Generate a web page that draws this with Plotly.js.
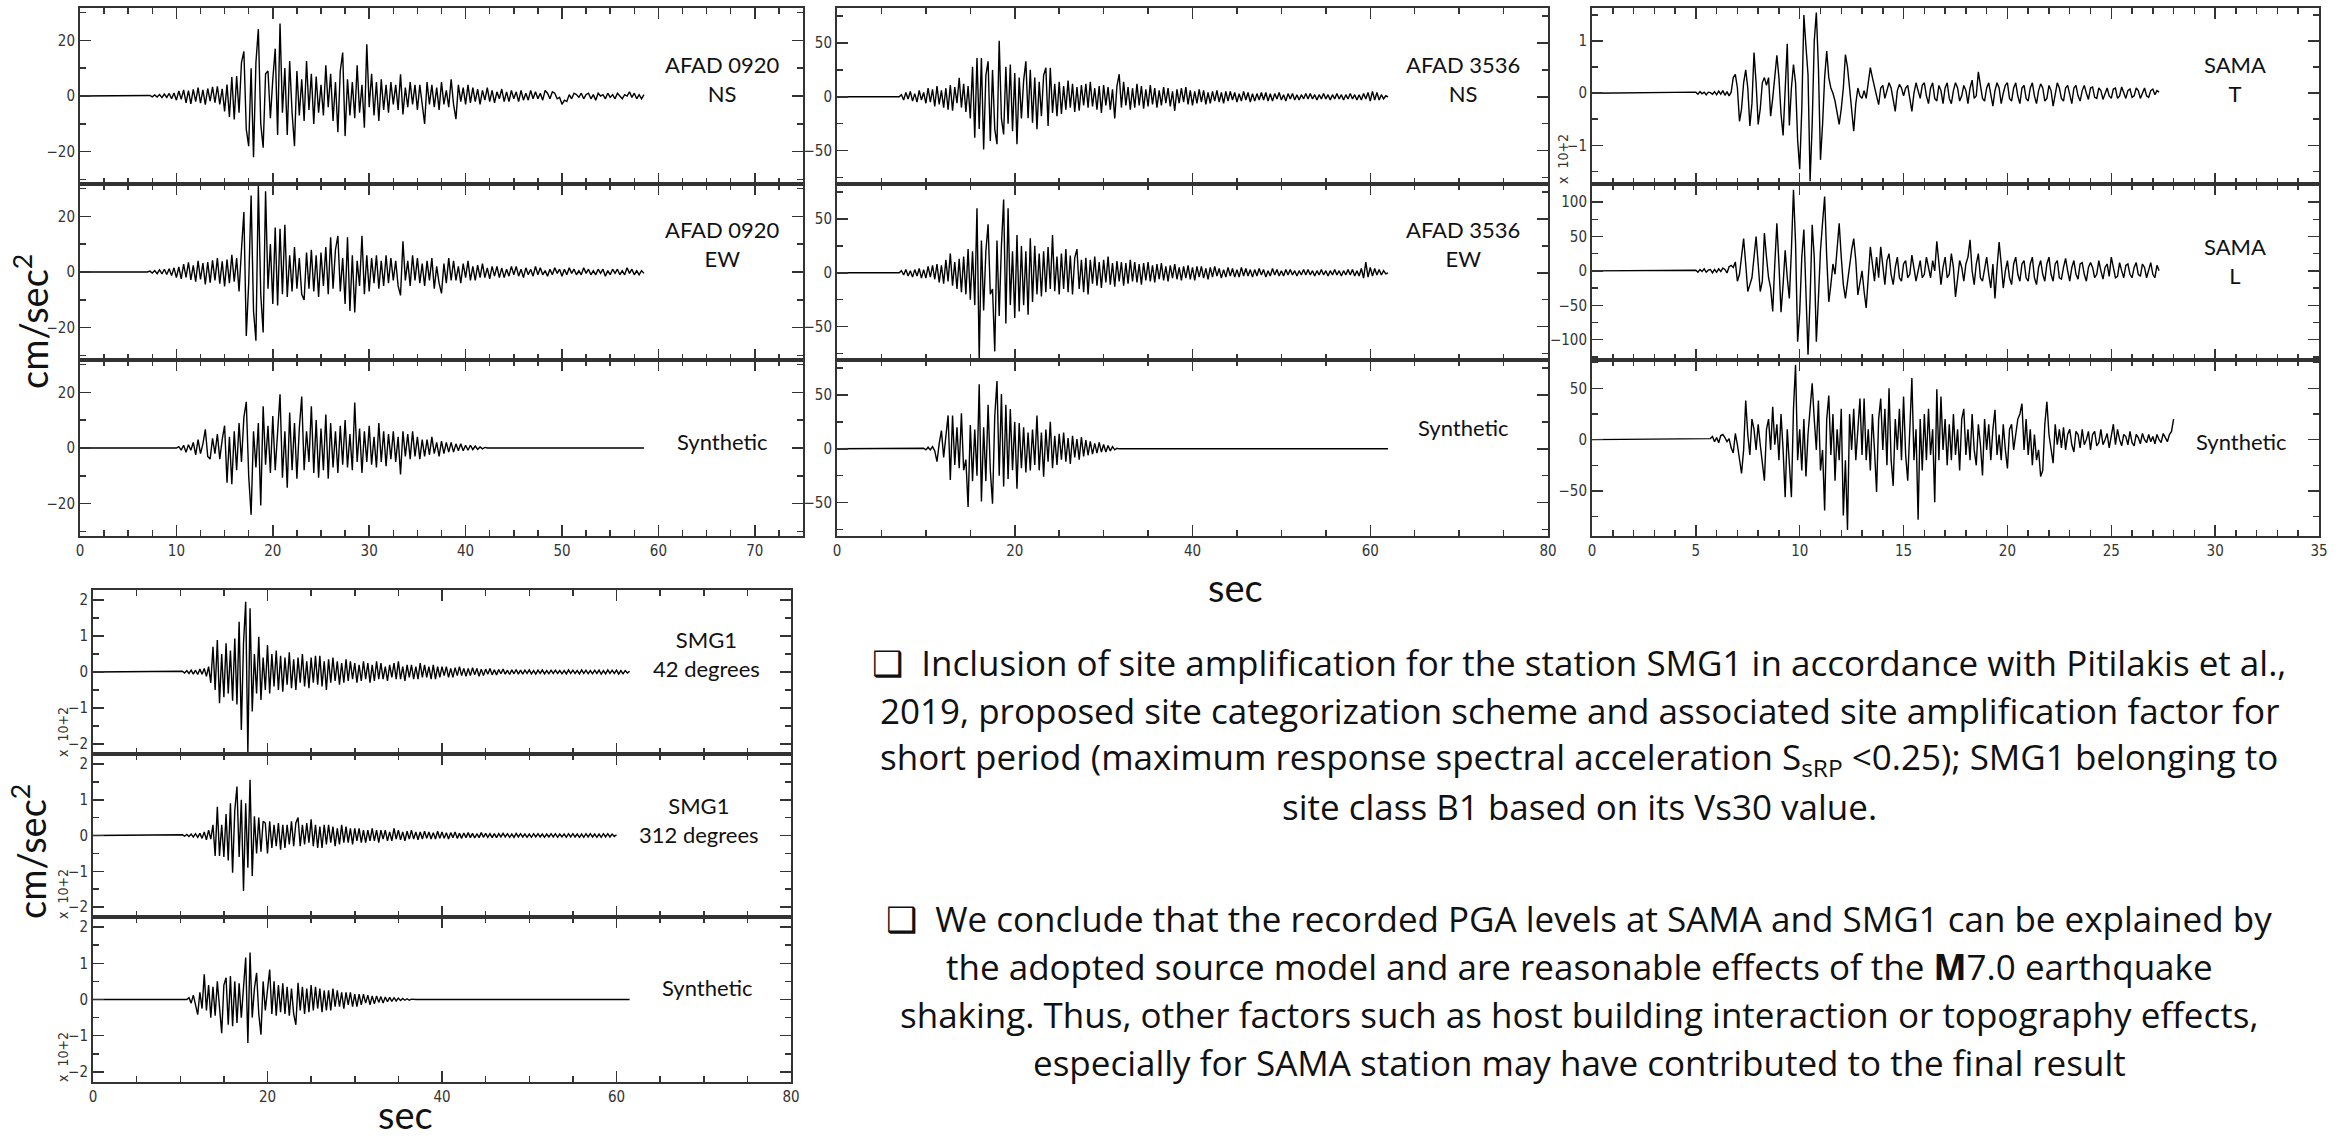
<!DOCTYPE html>
<html><head><meta charset="utf-8">
<script src="https://cdn.plot.ly/plotly-3.0.1.min.js"></script>
<style>html,body{margin:0;padding:0;background:#fff;}#chart{width:2347px;height:1139px;}</style>
</head><body><div id="chart"></div>
<script>
// ---------------- DATA ----------------
// Each record: onset time (s), sample step (s), samples; record start/end times (s)
const stationLabels = ["AFAD 0920<br>NS","AFAD 0920<br>EW","Synthetic",
                       "AFAD 3536<br>NS","AFAD 3536<br>EW","Synthetic",
                       "SAMA<br>T","SAMA<br>L","Synthetic",
                       "SMG1<br>42 degrees","SMG1<br>312 degrees","Synthetic"];
const onsetTimes = [7,7,10, 7,7,9.5, 5,5,5.7, 10,10,10.75];
const sampleSteps = [0.25,0.25,0.25, 0.25,0.25,0.25, 0.1,0.1,0.1, 0.25,0.25,0.25];
const recordEnd = [58.5,58.5,58.5, 62,62,62, 27.3,27.3,28, 61.5,60,61.5];

// AFAD 0920 (cm/s^2)
const afad0920NS = [0,0.2,-0.3,0.4,-0.4,0.5,-0.6,0.7,-0.5,0.9,-1,1.1,
-1.5,1.8,-1.2,2.2,-2.5,1.9,-2.8,2.4, -2,3,-2.6,2.2,-3.1,2.7,-1.8,3.3,
-2.4,3.5,-3,2.6, -5.5,4.1,-7.5,6.8, -8.4,7.2,-6,12, 16,-12,-18,10,
-22,12,24,-10, -18.6,8,9,-8, 6,17,-14,26, -6,10,-14,12.6, -6,-18,9,-7,
6,-9,12.6,-5, 8,-10,7,-6, 4,-7,11,-4, 8,-9,5,-13, 9,15.6,-14.4,6,
-7,5,-8,11, -6,4,-11.4,18.6, -4,8,-7,5, -9,6,-5,4, -6,5,-3,4,
-5,7.8,-6.6,3, -4,5,-3,4, -5,4,-3,-10, 5,-3,4,-4, 3,-5,5,-3,
2,-4,6,-3, -8.3,4,-2,3, -3,4,-2.5,3, -2,2.5,-3,2, -1.5,3,-2,2,
-2.5,1.5,-1,2.5, -2,1.5,-2,2, -1,1.5,-2,2, -1.5,1,-1.5,2, -1,1.5,-1,1,
-1.5,2,1,-1, 1.5,1,-1,-0.5, -3,-1.5,-2,0.5, -1,1,0.5,-0.5, 1,-1,0.5,1,
-1,0.5,-1.5,1, 0,0.5,-1,1, -0.5,0.5,-1,1, 0,-1,0.5,0, 1.5,-0.5,1,-1, 0.5,-1,0.5];
const afad0920EW = [0,0.3,-0.4,0.5,-0.6,0.8,-0.7,1,-0.9,1.2,-1.3,1.5,
-2,1.8,-2.5,2.8,-1.9,3.5,-2.8,2.4, -3.5,4,-2.7,3.2,-4.5,3.6,-3.8,4.2,
-3,5,-4.2,3.8, -5.2,4.5,-4,6.2, -3.5,5,-7,8, 21.5,-23,-4,27.5,
-14,-24.7,31,-8, -21.7,29,-6,10, -11.5,16,-12,15.5, -8,17,-9,6,
-7,9,-6,5, -8,-10,7,-6, 8,-7,6,-9, 7,-5,9,-8, 12.5,-6,8,13,
-7,5,-11.5,12.5, -14,6,-14.5,4, -5,13,-8,6, -7,5,-4,6, -6,4,-5,6,
-4,5,-3,4, -5,-8.4,11,-3, 4,-5,6,-3, 5,-4,3,-5, 4,-3,5,-6,
2,-4,-7.7,3, -4,5,-3,4, -3,2,-4,3, -2,4,-3,2, -3,2.5,-2,3,
-2,1.5,-2.5,2, -1.5,2,-2,1.5, -2,1,-1.5,2, -1,2,-1.5,1, -2,1.5,-1,1,
-1.5,2,-1,1.5, -1,0.5,-1.5,1, -1,1.5,-0.5,1, -1.5,1,-1,1.5, -0.5,1,-1,0.5,
-1,1.5,-0.5,1, -1,0.5,-1,1, -0.5,1,-1.5,0.5, -1,1,-0.5,1, -1,0.5,-1,1.5,
-0.5,1,-1,0.5, -1,0.5,-0.5];
const afad0920Syn = [0,0.5,-0.8,1, -1.5,1.2,-0.8,2, -2.5,3,-2,1.5, 6.7,-3,-4,3.5,
-2,5,-4,3, 8,-12.5,4,-13, 6,-8,9,-5, 11,16.6,-10,-24, 6,-7,9,-20.6,
15,-6,8,-9, 11.5,-8,7,19.3, -10.7,6,-14.3,12.7, -8,9,-11,7, 18.5,-8,6,-5,
15,-9,10,-10.7, 7,-8,12,-11, 9,-7,6,-9, 8,-6,10,-7, 5,-8,16.3,-5,
7,-9,6,-5, 8,-6,4,-7, 9,-5,6,-6.5, 5,-4,6,-5, 4,-9.5,6,-3, 5,-4,6,-3,
4,-4,3,-3, 3,-2.5,4,-2, 2,-3,2.5,-2, 2,-1.5,2,-1.5, 1.5,-1,1.5,-1,
1,-0.8,1,-0.6, 0.7,-0.5,0.4,-0.3, 0.2,0];

// AFAD 3536 (cm/s^2)
const afad3536NS = [0,2,-3,4,-2,5,-4,3, -5,6,-3,4, -6,8,-5,7, -9,10,-7,6,
-10,8,-12,11, -13,9,-6,17.6, -10,12,-14,10, -20,28,-38,36, -30,36,-49,20,
33,-41,25,-30, -44,52,-20,-35, 28,-25,30,-32, 22,-44,18,-20, 15,33,-20,25,
-24,18,-30,14, -18,20,27,-27, 27,-15,12,-18, 14,-16,10,-12, 15,-10,12,-14,
9,-13,11,-8, 12,-10,14,-9, 8,-12,10,-15, 11,-8,9,-12, 7,-20,10,21,
-10,14,-8,9, -12,8,-10,12, -8,10,-11,7, -9,11,-7,8, -10,6,-8,9,
-6,8,-9,5, -13,7,-6,8, -5,9,-7,6, -8,5,-6,7, -5,6,-7,4, -6,5,-4,6,
-5,4,-6,5, -4,5,-3,4, -5,3,-4,5, -3,4,-5,3, -4,3,-3,4, -3,4,-4,3,
-4,3,-2,4, -3,2,-4,3, -2,3,-3,2, -3,2,-2,3, -2,3,-2,2, -3,2,-2,3,
-2,2,-3,2, -2,3,-2,2, -3,2,-2,3, -2,2,-3,2, -3,3,-2,4, -4,5,-3,4, -3,2,-2,1, 0];
const afad3536EW = [0,2,-2,3,-3,2,-4,3, -3,4,-5,3, -5,6,-4,7, -6,8,-9,7,
-10,12,-8,18, -12,10,-15,13, -18,15,-20,22, -25,20,-30,60, -80,30,-35,20,
45,-20,-15,-73, 30,-40,25,68, -47,60,-30,20, -42,35,-36,25, -30,20,-39,32,
-27,25,-20,18, -22,20,-18,24, -15,35,-17,15, -20,18,-15,22, -18,16,-20,14,
22,-15,12,-18, 14,-20,12,-10, 15,-12,10,-14, 12,-9,15,-11, 9,-13,11,-8,
10,-12,9,-10, 12,-8,10,-9, 8,-11,9,-7, 10,-8,7,-9, 8,-6,9,-7,
6,-8,7,-5, 8,-6,5,-7, 6,-5,7,-6, 5,-7,6,-4, 6,-5,4,-6, 5,-4,6,-3,
4,-5,3,-4, 5,-3,4,-4, 3,-4,5,-3, 4,-3,3,-4, 3,-3,4,-2, 3,-4,2,-3,
4,-2,3,-3, 2,-3,3,-2, 3,-2,2,-3, 2,-2,3,-2, 3,-2,2,-3, 2,-2,3,-2,
2,-3,2,-2, 3,-2,2,-3, 2,-2,3,-2, 3,-3,2,-3, 4,-5,10,-4, 5,-3,4,-2, 3,-2,2,-1, 0];
const afad3536Syn = [0,0.5,-1,1.5,-1,2, -2,-12,5,17, -8,12,31,-29, 31,-15,20,-18,
33,-20,-10,-54, 22,-30,18,-25, 60,-49,20,-30, 41,-20,-51,30, 63,-25,51,-35,
41,-28,37,-20, 25,-37,24,-18, 20,-22,15,-20, 18,-15,31,-20, 15,-26,18,-12,
25,-18,12,-15, 14,-10,15,-12, 10,-14,12,-8, 9,-10,11,-7, 8,-6,7,-5,
5,-4,6,-3, 4,-3,3,-2, 2,-1,0.5,0];

// SAMA (T in x10^2 cm/s^2; L and synthetic in cm/s^2)
const samaT = [0.02,-0.02,0.03,-0.01,0.02,-0.03,0.02,0.01,-0.02,0.03,
-0.03,0.04,-0.02,0.05,-0.04,0.03,-0.05,0.02,0.3,0.36,
0.1,-0.54,-0.3,0.2,0.45,0.1,-0.63,-0.2,0.78,0.2,
-0.6,-0.3,0.2,0.3,0.15,0.3,-0.44,-0.1,0.4,0.73,
0.3,-0.4,-0.81,0.2,0.95,-0.62,0.1,0.55,0.2,-0.9,
-1.46,-0.3,1.5,0.9,0.36,-1.69,-0.6,1.0,1.55,0.5,
-1.28,-0.6,0.3,0.81,0.3,0.1,0,-0.15,-0.4,-0.6,
-0.3,0.1,0.74,0.5,0.1,-0.3,-0.73,-0.2,0.1,-0.05,
-0.1,0.05,-0.1,0.2,0.49,0.3,0.1,-0.05,-0.22,0.1,
0.15,-0.1,0.05,0.2,0.1,-0.1,-0.35,0.05,0.17,0.1,
-0.05,0.1,0.15,-0.1,-0.35,0,0.2,0.05,-0.1,0.15,
0.2,-0.05,-0.2,0.1,0.2,-0.1,-0.15,0.15,0.05,-0.2,
0.1,0.2,-0.1,-0.2,0.05,0.2,0.1,-0.15,-0.05,0.15,
0.05,-0.2,0.1,0.25,-0.1,-0.05,0.41,0.15,-0.1,-0.15,
0.1,0.2,-0.05,-0.25,0.05,0.2,0.1,-0.2,0,0.15,
0.2,-0.1,-0.15,0.1,0.2,-0.05,-0.2,0.1,0.15,-0.1,
-0.15,0.1,0.2,-0.05,-0.2,0.05,0.18,0.1,-0.15,-0.1,
0.15,0.05,-0.25,0,0.2,0.1,-0.1,-0.15,0.1,0.15,
-0.05,-0.2,0.1,0.15,-0.05,-0.15,0.05,0.15,0,-0.12,
0.1,0.12,-0.08,-0.1,0.1,0.05,-0.12,0,0.1,-0.05,
-0.1,0.08,0.1,-0.1,-0.05,0.12,0,-0.1,0.05,0.08,
-0.08,-0.05,0.1,0.05,-0.1,0,0.1,-0.05,-0.08,0.05,
0.08,-0.03,0.05,0.02];
const samaL = [1,-2,2,-1,3,-2,1,2,-3,2,
-2,3,-1,4,2,-3,6,8,5,13,
-15,-5,20,47,10,-30,-20,-10,20,50,
10,-30,-15,55,20,-10,-25,-59,10,69,
10,-60,-20,30,-10,-40,30,118,40,-103,
-60,20,60,-50,-122,-40,67,20,-103,-40,
30,70,108,20,-45,-20,10,-5,30,69,
20,-20,-40,-15,10,30,47,15,-35,-15,
0,-30,-54,-10,35,10,-15,20,-10,35,
10,-20,15,25,-5,-20,5,20,-10,-15,
10,15,-10,-5,23,5,-15,0,15,-10,
-5,20,5,-10,15,0,43,10,-20,5,
20,-10,-5,25,5,-38,-10,15,5,-15,
10,20,45,0,-20,10,25,-10,-15,5,
20,-5,-25,10,-40,5,42,10,-25,0,
15,-10,-20,10,20,-5,-15,10,15,-10,
-15,10,20,-10,-20,5,15,-5,-15,10,
20,-5,-15,10,15,-10,-12,5,18,0,
-15,5,15,-5,-12,10,12,-5,-15,5,
12,5,-10,-5,15,0,-12,5,10,-8,
20,5,-10,-8,12,0,-10,8,10,-5,
-10,5,12,-5,-8,10,5,-10,0,12,
-5,-10,8,0];
const samaSyn = [1,3,-2,
2,-3,4,5,2,-2,1,-8,-13,6,
-5,-20,-33,-10,38,5,-15,20,10,-10,
15,-5,-25,-40,10,20,-10,32,-5,15,
-20,25,-10,-56,10,-20,-56,30,73,-20,
10,-30,20,-36,5,30,55,20,-10,38,
-30,-10,-69,20,43,-15,25,-40,10,-20,
30,-74,-20,-88,25,-10,30,-20,10,40,
-15,40,-20,10,-30,25,-10,-51,20,40,
-10,30,-25,50,-20,-45,20,-10,30,-20,
42,-15,-40,10,60,-20,10,-78,20,-30,
25,-20,30,-15,10,-61,49,-20,42,-10,
20,-25,15,-20,25,-15,10,-30,20,30,
-15,10,-20,25,-10,-25,15,-5,-35,20,
-10,15,-20,10,29,-15,5,-20,15,-10,
-28,10,15,-10,5,20,25,35,-10,20,
-15,10,-25,5,-20,-10,-36,-30,15,37,
5,-10,-23,15,-5,10,-8,12,-10,5,
10,-5,-12,8,5,-8,10,-5,0,8,
-10,5,8,-6,-3,10,-5,0,6,-8,
5,15,-5,10,0,-6,5,3,-5,8,
-3,-6,5,2,-4,6,0,-3,5,-2,
3,-4,5,0,-3,6,2,-2,5,8,
20];

// SMG1 (x10^2 cm/s^2)
const smg42 = [0,0.02,-0.03,0.04, -0.04,0.05,-0.06,0.05, -0.07,0.08,-0.06,0.1,
-0.12,0.15,-0.3,0.7, -0.5,0.89,-0.87,0.5, -0.7,0.8,-0.6,0.6, -0.8,0.93,-0.9,1.4,
-1.61,0.8,1.95,-2.26, 1.77,-1.1,0.5,-0.6, 0.98,-0.78,0.4,-0.5, 0.75,-0.6,0.5,-0.4,
0.6,-0.5,0.45,-0.55, 0.4,-0.35,0.55,-0.45, 0.35,-0.5,0.4,-0.3, 0.5,-0.4,0.3,-0.45,
0.4,-0.3,0.45,-0.35, 0.45,-0.4,0.3,-0.5, 0.35,-0.3,0.4,-0.25, 0.3,-0.35,0.25,-0.3,
0.35,-0.25,0.3,-0.2, 0.25,-0.3,0.2,-0.25, 0.3,-0.2,0.25,-0.3, 0.2,-0.25,0.3,-0.2,
0.25,-0.2,0.15,-0.25, 0.2,-0.15,0.25,-0.2, 0.3,-0.2,0.15,-0.25, 0.2,-0.15,0.2,-0.2,
0.15,-0.2,0.25,-0.15, 0.2,-0.15,0.15,-0.2, 0.2,-0.2,0.15,-0.15, 0.15,-0.1,0.15,-0.15,
0.1,-0.15,0.12,-0.1, 0.15,-0.1,0.1,-0.12, 0.1,-0.1,0.12,-0.08, 0.1,-0.12,0.08,-0.1,
0.08,-0.06,0.1,-0.08, 0.06,-0.08,0.07,-0.05, 0.08,-0.06,0.05,-0.07, 0.06,-0.05,0.07,-0.06,
0.05,-0.06,0.05,-0.04, 0.06,-0.05,0.04,-0.06, 0.05,-0.04,0.06,-0.05, 0.04,-0.05,0.05,-0.04,
0.05,-0.04,0.04,-0.05, 0.04,-0.05,0.06,-0.04, 0.05,-0.04,0.04,-0.05, 0.06,-0.04,0.05,-0.05,
0.04,-0.05,0.05,-0.04, 0.05,-0.06,0.04,-0.05, 0.06,-0.04,0.05,-0.04, 0.05,-0.06,0.04,-0.05,
0.04,-0.03,0.02];
const smg312 = [0,0.02,-0.02,0.03, -0.03,0.04,-0.04,0.05, -0.05,0.06,-0.08,0.1,
-0.12,0.15,-0.1,0.3, -0.57,0.8,-0.57,0.3, -0.6,0.6,-0.7,0.9, -1.04,0.7,1.37,-0.6,
1.0,-1.55,0.9,-0.9, 1.56,-1.13,0.54,-0.5, 0.5,-0.45,0.4,0.35, -0.5,0.4,-0.35,0.3,
-0.3,0.35,-0.4,0.3, -0.35,0.3,-0.25,0.4, -0.3,0.35,0.5,-0.3, 0.3,-0.25,0.35,-0.2,
0.45,-0.3,0.3,-0.35, 0.25,-0.35,0.3,-0.25, 0.3,-0.2,0.25,-0.3, 0.2,-0.25,0.3,-0.2,
0.25,-0.2,0.2,-0.25, 0.2,-0.15,0.2,-0.2, 0.15,-0.2,0.15,-0.15, 0.2,-0.15,0.15,-0.2,
0.15,-0.1,0.15,-0.15, 0.1,-0.15,0.2,-0.1, 0.15,-0.12,0.1,-0.15, 0.12,-0.1,0.15,-0.1,
0.1,-0.12,0.1,-0.1, 0.12,-0.08,0.1,-0.1, 0.08,-0.1,0.12,-0.08, 0.1,-0.08,0.08,-0.1,
0.08,-0.06,0.1,-0.08, 0.06,-0.08,0.07,-0.06, 0.08,-0.06,0.06,-0.07, 0.05,-0.06,0.08,-0.05,
0.06,-0.05,0.05,-0.06, 0.05,-0.06,0.05,-0.04, 0.06,-0.04,0.05,-0.05, 0.04,-0.05,0.06,-0.04,
0.05,-0.04,0.04,-0.05, 0.04,-0.05,0.05,-0.04, 0.05,-0.04,0.04,-0.05, 0.04,-0.04,0.05,-0.04,
0.05,-0.05,0.04,-0.04, 0.04,-0.05,0.05,-0.04, 0.05,-0.04,0.04,-0.05, 0.04,-0.05,0.05,-0.04,
0.05,-0.04,0.04,-0.05, 0.04,-0.05,0.05,-0.04, 0.05,-0.04,0.04,-0.03, 0.02];
const smgSyn = [0, 0.05,-0.1,0.12,-0.15, -0.42,0.2,-0.25,0.7, -0.3,0.4,-0.5,0.35,
-0.45,0.5,-0.35,-0.93, 0.4,0.6,-0.7,0.65, -0.74,0.5,-0.65,0.45, -0.5,0.3,1.16,-1.2,
1.3,-0.5,0.3,0.74, -0.4,-0.97,0.5,-0.3, 0.3,0.83,-0.4,0.5, -0.45,0.4,-0.35,0.45,
-0.4,0.35,-0.45,0.3, -0.4,-0.7,0.46,-0.3, 0.35,-0.4,0.3,-0.35, 0.4,-0.3,0.35,-0.25,
0.3,-0.35,0.25,-0.3, 0.25,-0.3,0.3,-0.2, 0.25,-0.2,0.2,-0.25, 0.2,-0.15,0.2,-0.2,
0.15,-0.2,0.15,-0.15, 0.15,-0.1,0.12,-0.15, 0.1,-0.12,0.1,-0.08, 0.08,-0.1,0.07,-0.06,
0.06,-0.05,0.05,-0.04, 0.04,-0.03,0.03,-0.02, 0.02,-0.02,0.01,0, 0];

const seriesList = [afad0920NS, afad0920EW, afad0920Syn, afad3536NS, afad3536EW, afad3536Syn,
                    samaT, samaL, samaSyn, smg42, smg312, smgSyn];

// axis tick settings per panel
const xRanges = [[0,75],[0,80],[0,35],[0,80]];
const xMajor = [10,20,5,20];
const xMinor = [2.5,5,1,5];
const yRanges = [[-31.6,31.6],[-31.6,31.6],[-31.6,31.6],
                 [-81,82.5],[-81,82.5],[-81,82.5],
                 [-1.744,1.637],[-129.6,126.3],[-93.9,77.6],
                 [-2.28,2.28],[-2.28,2.28],[-2.28,2.28]];
const yMajor = [20,20,20, 50,50,50, 1,50,50, 1,1,1];
const yMinor = [10,10,10, 25,25,25, 0.5,25,25, 0.5,0.5,0.5];

// ---------------- LAYOUT (pixel geometry) ----------------
const W = 2347, H = 1139;
const panelX = [[80,803],[837,1548],[1592,2319],[93,791]];
const rowsTop = [[8,184],[184,360],[360,536]];
const rowsBot = [[590,754],[754,917],[917,1082]];
const labelPos = [[722,79],[722,244],[722,441],[1463,79],[1463,244],[1463,427],
                  [2235,79],[2235,261],[2241,441],[706,654],[699,820],[707,987]];

const tickFont = {family:'"Liberation Sans Narrow","DejaVu Sans Condensed","Arial Narrow",sans-serif', size:15, color:'#333'};
const txtFam = 'Lato, "Open Sans", sans-serif';
const bodyFam = '"Open Sans", Lato, sans-serif';
const axColor = '#333';

const data = [];
const layout = {
  width: W, height: H, autosize: false,
  margin: {l:0, r:0, t:0, b:0, pad:0},
  paper_bgcolor: '#fff', plot_bgcolor: '#fff',
  showlegend: false, annotations: []
};

for (let k = 0; k < 12; k++) {
  const p = Math.floor(k/3), r = k % 3;
  const rows = p === 3 ? rowsBot : rowsTop;
  const [px0, px1] = panelX[p];
  const [py0, py1] = rows[r];
  const id = k === 0 ? '' : String(k+1);
  const vals = seriesList[k];
  const x = [0], y = [0];
  for (let i = 0; i < vals.length; i++) { x.push(onsetTimes[k] + i*sampleSteps[k]); y.push(vals[i]); }
  const last = x[x.length-1];
  if (recordEnd[k] > last + 0.01) { x.push(recordEnd[k]); y.push(0); }
  data.push({type:'scatter', mode:'lines', x, y, xaxis:'x'+id, yaxis:'y'+id,
             line:{color:'#000', width:1.4}, hoverinfo:'skip'});
  layout['xaxis'+id] = {
    domain:[px0/W, px1/W], anchor:'y'+id, range:xRanges[p], fixedrange:true,
    showline:true, linecolor:axColor, linewidth:2, mirror:'allticks',
    ticks:'inside', ticklen:11, tickwidth:1.5, tickcolor:axColor, dtick:xMajor[p], tick0:0,
    minor:{ticks:'inside', ticklen:6, tickwidth:1.5, tickcolor:axColor, dtick:xMinor[p], tick0:0, showgrid:false},
    showgrid:false, zeroline:false, showticklabels: r === 2, tickfont: tickFont
  };
  layout['yaxis'+id] = {
    domain:[1-py1/H, 1-py0/H], anchor:'x'+id, range:yRanges[k], fixedrange:true,
    showline:true, linecolor:axColor, linewidth:2, mirror:'allticks',
    ticks:'inside', ticklen:11, tickwidth:1.5, tickcolor:axColor, dtick:yMajor[k], tick0:0,
    minor:{ticks:'inside', ticklen:6, tickwidth:1.5, tickcolor:axColor, dtick:yMinor[k], tick0:0, showgrid:false},
    showgrid:false, zeroline:false, tickfont: tickFont
  };
  layout.annotations.push({xref:'paper', yref:'paper', x:labelPos[k][0]/W, y:1-labelPos[k][1]/H,
    xanchor:'center', yanchor:'middle', showarrow:false, text:stationLabels[k],
    font:{family:txtFam, size:22, color:'#111'}});
}

function ann(text, px, py, size, angle, fam, color, yanchor) {
  layout.annotations.push({xref:'paper', yref:'paper', x:px/W, y:1-py/H, xanchor:'center', yanchor: yanchor || 'middle',
    showarrow:false, text, textangle: angle || 0, font:{family: fam || txtFam, size, color: color || '#111'}});
}
// axis labels
ann('cm/sec<sup>2</sup>', 31, 322, 38, -90);
ann('cm/sec<sup>2</sup>', 29, 852, 38, -90);
ann('sec', 1235, 587, 38);
ann('sec', 405, 1139, 38, 0, null, null, 'bottom');
// exponent notes
const expNote = 'x  10+2';
const expFont = '"Liberation Sans Narrow","DejaVu Sans Condensed",sans-serif';
ann(expNote, 1563, 159, 14, -90, expFont, '#333');
ann(expNote, 63, 732, 14, -90, expFont, '#333');
ann(expNote, 63, 894, 14, -90, expFont, '#333');
ann(expNote, 63, 1057, 14, -90, expFont, '#333');

// text block
const bodyLines = [
  '❑\u00a0 Inclusion of site amplification for the station SMG1 in accordance with Pitilakis et al.,',
  '2019, proposed site categorization scheme and associated site amplification factor for',
  'short period (maximum response spectral acceleration S<sub>sRP</sub> &lt;0.25); SMG1 belonging to',
  'site class B1 based on its Vs30 value.',
  '❑\u00a0 We conclude that the recorded PGA levels at SAMA and SMG1 can be explained by',
  'the adopted source model and are reasonable effects of the <b>M</b>7.0 earthquake',
  'shaking. Thus, other factors such as host building interaction or topography effects,',
  'especially for SAMA station may have contributed to the final result'
];
const bodyY = [662,710,758,806,918,966,1014,1062];
bodyLines.forEach((t,i) => ann(t, 1579, bodyY[i], 35, 0, bodyFam));

Plotly.newPlot('chart', data, layout, {staticPlot:true, displayModeBar:false});
</script>
</body></html>
